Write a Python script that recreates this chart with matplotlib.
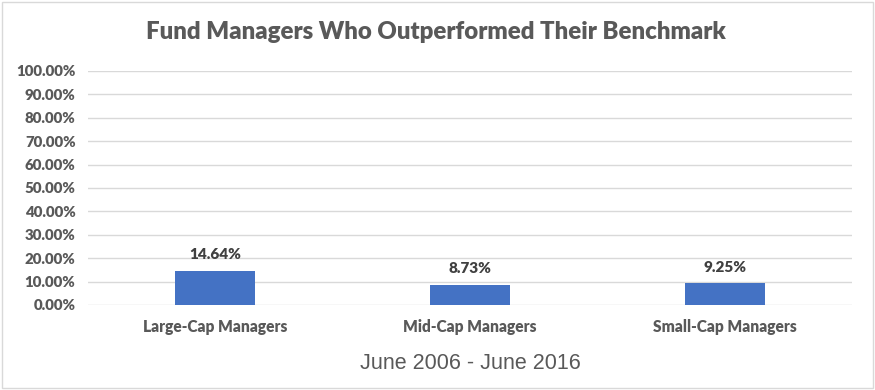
import matplotlib.pyplot as plt
from matplotlib.patches import Rectangle

categories = ["Large-Cap Managers", "Mid-Cap Managers", "Small-Cap Managers"]
values = [14.64, 8.73, 9.25]
yticks = [0, 10, 20, 30, 40, 50, 60, 70, 80, 90, 100]

fig = plt.figure(figsize=(8.75, 3.9), dpi=100)
ax = fig.add_axes([0.1006, 0.218, 0.873, 0.6])

x = range(len(categories))
bars = ax.bar(x, values, width=0.314, color="#4472C4", zorder=3)
for b, v in zip(bars, values):
    ax.annotate(f"{v:.2f}%", (b.get_x() + b.get_width() / 2, v), xytext=(0, 7),
                textcoords="offset points", ha="center", va="bottom",
                fontsize=11, fontweight="heavy", color="#404040", family="Lato")

ax.set_xlim(-0.5, 2.5)
ax.set_ylim(0, 100)
ax.set_yticks(yticks)
ax.set_yticklabels([f"{t:.2f}%" for t in yticks], fontsize=10.8, fontweight="heavy",
                   color="#595959", family="Lato")
ax.set_xticks(list(x))
ax.set_xticklabels(categories, fontsize=11.2, fontweight="heavy", color="#595959", family="Lato")
ax.tick_params(length=0, pad=10)
ax.tick_params(axis="y", pad=9)
ax.grid(axis="y", color="#D9D9D9", linewidth=1, zorder=0)
for s in ax.spines.values():
    s.set_visible(False)

ax.set_xlabel("June 2006 - June 2016", fontsize=15.5, color="#595959",
              family="Liberation Sans", labelpad=13)
fig.text(0.498, 0.918, "Fund Managers Who Outperformed Their Benchmark", ha="center",
         va="center", fontsize=17.3, fontweight="heavy", color="#595959", family="Lato")

fig.patches.append(Rectangle((0.002, 0.004), 0.996, 0.992, transform=fig.transFigure,
                             fill=False, edgecolor="#D9D9D9", linewidth=1))

fig.savefig("out.png", dpi=100)
